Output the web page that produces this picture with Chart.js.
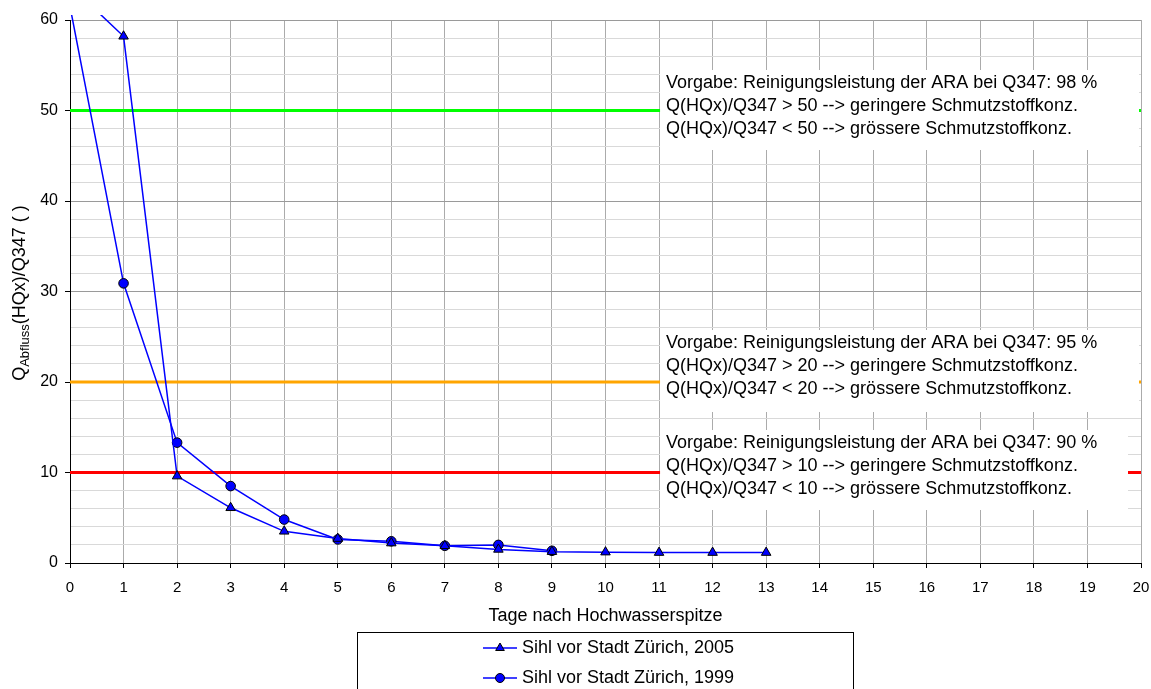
<!DOCTYPE html>
<html>
<head>
<meta charset="utf-8">
<script src="https://cdn.jsdelivr.net/npm/chart.js@4.4.1/dist/chart.umd.min.js"></script>
<style>
  html, body { margin: 0; padding: 0; background: #fff; }
  #wrap { width: 1151px; height: 689px; }
</style>
</head>
<body>
<div id="wrap"><canvas id="chart" width="1151" height="689"></canvas></div>
<script>
// ===== DATA =====
const days2005 = [0, 1, 2, 3, 4, 5, 6, 7, 8, 9, 10, 11, 12, 13];
const sihl2005 = [63.8, 58.2, 9.6, 6.1, 3.5, 2.7, 2.2, 1.9, 1.5, 1.25, 1.2, 1.15, 1.15, 1.15];
const days1999 = [0, 1, 2, 3, 4, 5, 6, 7, 8, 9];
const sihl1999 = [61.5, 30.9, 13.3, 8.5, 4.8, 2.6, 2.4, 1.9, 2.0, 1.35];
const seriesLabels = ["Sihl vor Stadt Zürich, 2005", "Sihl vor Stadt Zürich, 1999"];

const limitValues = [50, 20, 10];
const limitNotes = [
  ["Vorgabe: Reinigungsleistung der ARA bei Q347: 98 %",
   "Q(HQx)/Q347 > 50 --> geringere Schmutzstoffkonz.",
   "Q(HQx)/Q347 < 50 --> grössere Schmutzstoffkonz."],
  ["Vorgabe: Reinigungsleistung der ARA bei Q347: 95 %",
   "Q(HQx)/Q347 > 20 --> geringere Schmutzstoffkonz.",
   "Q(HQx)/Q347 < 20 --> grössere Schmutzstoffkonz."],
  ["Vorgabe: Reinigungsleistung der ARA bei Q347: 90 %",
   "Q(HQx)/Q347 > 10 --> geringere Schmutzstoffkonz.",
   "Q(HQx)/Q347 < 10 --> grössere Schmutzstoffkonz."]
];
const xTitle = "Tage nach Hochwasserspitze";
const yTitle = ["Q", "Abfluss", "(HQx)/Q347 ( )"];

// ===== STYLE =====
const FONT = "'Liberation Sans', Arial, sans-serif";
const limitColors = ["#00ff00", "#ffa500", "#ff0000"];
const noteBoxes = [            // pixel boxes for the white note panels
  { top: 70, bottom: 150, right: 1139 },
  { top: 330, bottom: 412, right: 1139 },
  { top: 430, bottom: 510, right: 1128 }
];

Chart.defaults.font.family = FONT;
Chart.defaults.color = "#000";

const toPoints = (xs, ys) => xs.map((x, i) => ({ x: x, y: ys[i] }));

const seriesSets = [
  {
    label: seriesLabels[0],
    data: toPoints(days2005, sihl2005),
    borderColor: "#0000ff",
    borderWidth: 1.5,
    backgroundColor: "#0000ff",
    pointStyle: "triangle",
    pointRadius: 5.5,
    pointBorderColor: "#000",
    pointBorderWidth: 1,
    pointBackgroundColor: "#0000ff",
    clip: { left: 0, top: 5, right: 0, bottom: 0 }
  },
  {
    label: seriesLabels[1],
    data: toPoints(days1999, sihl1999),
    borderColor: "#0000ff",
    borderWidth: 1.5,
    backgroundColor: "#0000ff",
    pointStyle: "circle",
    pointRadius: 4.8,
    pointBorderColor: "#000",
    pointBorderWidth: 1,
    pointBackgroundColor: "#0000ff",
    clip: { left: 0, top: 5, right: 0, bottom: 0 }
  }
];

const limitSets = limitValues.map((v, i) => ({
  label: "limit " + v,
  data: [{ x: 0, y: v }, { x: 20, y: v }],
  borderColor: limitColors[i],
  borderWidth: 3,
  pointRadius: 0,
  clip: { left: 0, top: 0, right: 6, bottom: 0 }
}));

// white panels with the notes, drawn over grid + limit lines
const notesPlugin = {
  id: "notes",
  afterDatasetsDraw(chart) {
    const ctx = chart.ctx;
    const left = chart.scales.x.getPixelForValue(11) + 1;
    ctx.save();
    noteBoxes.forEach((b, i) => {
      ctx.fillStyle = "#fff";
      ctx.fillRect(left, b.top, b.right - left, b.bottom - b.top);
      ctx.fillStyle = "#000";
      ctx.font = "18px " + FONT;
      ctx.textBaseline = "middle";
      limitNotes[i].forEach((line, j) => {
        ctx.fillText(line, left + 6, b.top + 13 + j * 23);
      });
    });
    ctx.restore();
  }
};

// y title with subscript + boxed legend
const extrasPlugin = {
  id: "extras",
  afterDraw(chart) {
    const ctx = chart.ctx;
    ctx.save();

    // y axis title
    ctx.translate(20, 293);
    ctx.rotate(-Math.PI / 2);
    ctx.textBaseline = "middle";
    ctx.fillStyle = "#000";
    const big = "18px " + FONT, small = "13px " + FONT;
    ctx.font = big; const w0 = ctx.measureText(yTitle[0]).width;
    ctx.font = small; const w1 = ctx.measureText(yTitle[1]).width;
    ctx.font = big; const w2 = ctx.measureText(yTitle[2]).width;
    let x = -(w0 + w1 + w2) / 2;
    ctx.font = big; ctx.fillText(yTitle[0], x, 0); x += w0;
    ctx.font = small; ctx.fillText(yTitle[1], x, 5); x += w1;
    ctx.font = big; ctx.fillText(yTitle[2], x, 0);
    ctx.setTransform(1, 0, 0, 1, 0, 0);

    // legend
    ctx.strokeStyle = "#000";
    ctx.lineWidth = 1;
    ctx.strokeRect(357.5, 632.5, 496, 80);
    seriesSets.forEach((ds, i) => {
      const y = 648 + i * 30;
      ctx.strokeStyle = ds.borderColor;
      ctx.lineWidth = 1.5;
      ctx.beginPath();
      ctx.moveTo(483, y);
      ctx.lineTo(517, y);
      ctx.stroke();
      ctx.fillStyle = ds.pointBackgroundColor;
      ctx.strokeStyle = ds.pointBorderColor;
      ctx.lineWidth = 1;
      Chart.helpers.drawPoint(ctx, {
        pointStyle: ds.pointStyle,
        radius: ds.pointStyle === "triangle" ? 5 : 4.5,
        borderWidth: 1,
        rotation: 0
      }, 500, y);
      ctx.fillStyle = "#000";
      ctx.font = "18px " + FONT;
      ctx.textBaseline = "middle";
      ctx.fillText(ds.label, 522, y);
    });
    ctx.restore();
  }
};

new Chart(document.getElementById("chart"), {
  type: "scatter",
  data: { datasets: seriesSets.map(d => Object.assign({ showLine: true }, d))
    .concat(limitSets.map(d => Object.assign({ showLine: true }, d))) },
  options: {
    responsive: false,
    animation: false,
    events: [],
    layout: { padding: { left: 0, top: 20, right: 10, bottom: 56 } },
    plugins: { legend: { display: false }, tooltip: { enabled: false } },
    scales: {
      x: {
        type: "linear",
        min: 0,
        max: 20,
        ticks: { stepSize: 1, padding: 11, font: { size: 15 }, color: "#000" },
        grid: { color: "#ababab", tickColor: "#000", tickLength: 5 },
        border: { color: "#000", width: 1 },
        title: {
          display: true,
          text: xTitle,
          color: "#000",
          font: { size: 18 },
          padding: { top: 0, bottom: 6 }
        },
        afterFit: s => { s.height = 70; s.paddingLeft = 0; s.paddingRight = 0; }
      },
      y: {
        min: 0,
        max: 60,
        ticks: {
          stepSize: 2,
          autoSkip: false,
          padding: 7,
          font: { size: 16 },
          color: "#000",
          callback: v => (v % 10 === 0 ? v : "")
        },
        grid: {
          color: c => (c.tick && c.tick.value % 10 === 0 ? "#9a9a9a" : "#d9d9d9"),
          tickColor: c => (c.tick && c.tick.value % 10 === 0 ? "#000" : "rgba(0,0,0,0)"),
          tickLength: 5
        },
        border: { color: "#000", width: 1 },
        afterFit: s => { s.width = 70; s.paddingTop = 0; s.paddingBottom = 0; }
      }
    }
  },
  plugins: [notesPlugin, extrasPlugin]
});
</script>
</body>
</html>
